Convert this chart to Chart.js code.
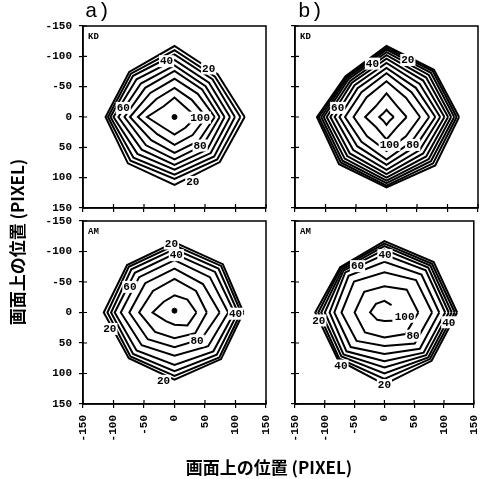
<!DOCTYPE html>
<html><head><meta charset="utf-8">
<script src="https://cdn.jsdelivr.net/npm/chart.js@4/dist/chart.umd.min.js"></script>
<style>
html,body{margin:0;padding:0;background:#fff;}
#wrap{position:relative;width:494px;height:479px;overflow:hidden;background:#fff;}
canvas.p{position:absolute;left:0;top:0;}
.t{position:absolute;color:#000;white-space:nowrap;}
.pl{font-family:"Liberation Mono",monospace;font-size:21px;line-height:24px;top:0px;}
.xt{font-family:"Noto Sans CJK JP",sans-serif;font-weight:bold;font-size:17px;line-height:20px;left:0;width:538px;text-align:center;top:457px;}
.yt{font-family:"Noto Sans CJK JP",sans-serif;font-weight:bold;font-size:17px;line-height:20px;width:200px;text-align:center;left:-83px;top:232px;transform:rotate(-90deg);transform-origin:100px 10px;}
</style></head><body>
<div id="wrap">
<canvas id="cA1" class="p" width="494" height="479"></canvas>
<canvas id="cB1" class="p" width="494" height="479"></canvas>
<canvas id="cA2" class="p" width="494" height="479"></canvas>
<canvas id="cB2" class="p" width="494" height="479"></canvas>
<div class="t pl" style="left:85px;">a)</div>
<div class="t pl" style="left:298px;">b)</div>
<div class="t xt">画面上の位置 (PIXEL)</div>
<div class="t yt">画面上の位置 (PIXEL)</div>
</div>
<script>
// Directions of the radii (degrees, y axis pointing down): E, SE, S, SW, W, NW, N, NE
const DIR_ANGLES = [0, 45, 90, 135, 180, 225, 270, 315];
const AXIS_MIN = -150, AXIS_MAX = 150, AXIS_STEP = 50;

// Contour radii (PIXEL), innermost first
const kdA_rings = [
  [36, 25, 29, 25, 45, 25, 32, 24],
  [52, 42, 46, 40, 60, 42, 48, 40],
  [66, 56, 59, 54, 73, 56, 63, 54],
  [74, 66, 70, 66, 82, 68, 76, 64],
  [82, 76, 79, 76, 92, 78, 85, 72],
  [91, 84, 87, 86, 100, 88, 94, 80],
  [99, 92, 95, 95, 105, 96, 103, 88],
  [108, 99, 102, 102, 109, 101, 110, 94],
  [115, 105, 112, 108, 113, 105, 117, 100]
];
const kdB_rings = [
  [12, 8, 13, 8, 12, 8, 12, 8],
  [33, 24, 37, 24, 35, 25, 39, 25],
  [55, 45, 56, 45, 54, 46, 59, 45],
  [70, 58, 70, 58, 68, 58, 72, 58],
  [80, 68, 79, 68, 77, 67, 81, 68],
  [88, 77, 87, 77, 85, 74, 89, 77],
  [95, 85, 94, 85, 92, 80, 96, 85],
  [101, 92, 100, 91, 98, 84, 102, 92],
  [106, 98, 105, 97, 103, 88, 107, 98],
  [111, 103, 109, 102, 107, 91, 111, 103],
  [115, 108, 113, 106, 111, 93, 114, 107],
  [119, 113, 116, 110, 114, 95, 117, 110]
];
const amA_rings = [
  [36, 30, 20, 20, 36, 25, 28, 30],
  [53, 48, 42, 45, 58, 50, 55, 50],
  [74, 62, 57, 62, 74, 68, 72, 66],
  [88, 78, 71, 76, 88, 82, 86, 82],
  [98, 90, 86, 88, 98, 92, 96, 94],
  [104, 98, 96, 96, 104, 100, 104, 102],
  [109, 104, 104, 102, 110, 106, 110, 108],
  [113, 108, 110, 106, 116, 110, 115, 112]
];
const amB_rings = [
  [null, 19, 14, 17, 24, 20, 19, 17],
  [57, 50, 41, 46, 50, 48, 43, 53],
  [80, 72, 55, 66, 72, 72, 66, 75],
  [92, 84, 68, 80, 84, 85, 83, 88],
  [102, 93, 80, 90, 92, 93, 95, 98],
  [108, 99, 90, 97, 100, 97, 103, 104],
  [113, 104, 100, 102, 106, 100, 109, 109],
  [118, 108, 109, 107, 111, 103, 113, 113],
  [122, 112, 118, 110, 116, 105, 117, 117]
];

// Contour labels: [x, y, text]
const kdA_labels = [[42, 1, '100'], [42, 47, '80'], [-84, -15, '60'], [-13, -92, '40'], [56, -80, '20'], [30, 107, '20']];
const kdB_labels = [[5, 46, '100'], [43, 46, '80'], [-80, -15, '60'], [-23, -88, '40'], [35, -94, '20']];
const amA_labels = [[37, 46, '80'], [-73, -42, '60'], [100, 2, '40'], [3, -94, '40'], [-5, -113, '20'], [-106, 27, '20'], [-18, 112, '20']];
const amB_labels = [[34, 7, '100'], [48, 38, '80'], [-45, -76, '60'], [1, -94, '40'], [108, 16, '40'], [-73, 87, '40'], [-110, 13, '20'], [0, 119, '20']];

// Peak dots
const kdA_dots = [[0, 0]];
const amA_dots = [[0, -3]];

const panelNames = ['KD', 'KD', 'AM', 'AM'];

function ring(r) {
  const pts = r.map((v, i) => v == null ? {x: null, y: null} :
    {x: v * Math.cos(DIR_ANGLES[i] * Math.PI / 180), y: v * Math.sin(DIR_ANGLES[i] * Math.PI / 180)});
  pts.push(pts[0]);
  return pts;
}

const framePlugin = {
  id: 'frame',
  afterDraw(chart) {
    const {ctx, chartArea: a, scales} = chart;
    ctx.save();
    ctx.strokeStyle = '#000';
    ctx.lineWidth = 1.5;
    ctx.strokeRect(a.left, a.top, a.right - a.left, a.bottom - a.top);
    ctx.lineWidth = 1.2;
    ctx.beginPath();
    scales.x.ticks.forEach(t => {
      const px = scales.x.getPixelForValue(t.value);
      ctx.moveTo(px, a.bottom); ctx.lineTo(px, a.bottom - 4);
    });
    scales.y.ticks.forEach(t => {
      const py = scales.y.getPixelForValue(t.value);
      ctx.moveTo(a.left, py); ctx.lineTo(a.left + 4, py);
    });
    ctx.stroke();
    ctx.restore();
  }
};

function labelPlugin(labels, name) {
  return {
    id: 'clabels',
    afterDatasetsDraw(chart) {
      const {ctx, chartArea: a, scales} = chart;
      ctx.save();
      ctx.font = 'bold 11px "Liberation Mono", monospace';
      ctx.textAlign = 'center';
      ctx.textBaseline = 'middle';
      labels.forEach(([x, y, s]) => {
        const px = scales.x.getPixelForValue(x), py = scales.y.getPixelForValue(y);
        const w = ctx.measureText(s).width;
        ctx.fillStyle = '#fff';
        ctx.fillRect(px - w / 2 - 1, py - 6, w + 2, 12);
        ctx.fillStyle = '#000';
        ctx.fillText(s, px, py + 0.5);
      });
      ctx.font = 'bold 9px "Liberation Mono", monospace';
      ctx.textAlign = 'left';
      ctx.fillText(name, a.left + 5, a.top + 11);
      ctx.restore();
    }
  };
}

function makePanel(id, area, rings, labels, dots, name, yLabels, xLabels) {
  const yW = 40, xH = xLabels ? 44 : 6;
  const datasets = rings.map(r => ({
    data: ring(r), showLine: true, borderColor: '#000', borderWidth: 2,
    pointRadius: 0, fill: false, tension: 0, spanGaps: false
  }));
  if (dots) datasets.push({
    data: dots.map(d => ({x: d[0], y: d[1]})), showLine: false,
    pointRadius: 2.5, backgroundColor: '#000', borderColor: '#000'
  });
  const tickFont = {family: 'Liberation Mono', size: 11, weight: 'bold'};
  const grid = {display: true, drawOnChartArea: false, drawTicks: true, tickLength: 4, color: '#000', lineWidth: 1.2};
  new Chart(document.getElementById(id), {
    type: 'scatter',
    data: {datasets},
    options: {
      responsive: false, animation: false, devicePixelRatio: 1,
      layout: {padding: {left: area[0] - yW, top: area[1], right: 494 - area[2], bottom: 479 - area[3] - xH}},
      plugins: {legend: {display: false}, tooltip: {enabled: false}},
      scales: {
        x: {
          type: 'linear', min: AXIS_MIN, max: AXIS_MAX,
          afterFit: s => { s.height = xH; },
          ticks: {display: xLabels, stepSize: AXIS_STEP, minRotation: 90, maxRotation: 90, autoSkip: false,
                  padding: 7, font: tickFont, color: '#000'},
          grid: grid, border: {display: true, color: '#000', width: 1.5}
        },
        y: {
          type: 'linear', min: AXIS_MIN, max: AXIS_MAX, reverse: true,
          afterFit: s => { s.width = yW; },
          ticks: {display: yLabels, stepSize: AXIS_STEP, autoSkip: false, padding: 7, font: tickFont, color: '#000'},
          grid: grid, border: {display: true, color: '#000', width: 1.5}
        }
      }
    },
    plugins: [framePlugin, labelPlugin(labels, name)]
  });
}

makePanel('cA1', [83, 26, 266, 208], kdA_rings, kdA_labels, kdA_dots, panelNames[0], true, false);
makePanel('cB1', [295, 26, 478, 208], kdB_rings, kdB_labels, null, panelNames[1], false, false);
makePanel('cA2', [83, 221, 266, 404], amA_rings, amA_labels, amA_dots, panelNames[2], true, true);
makePanel('cB2', [295, 221, 478, 404], amB_rings, amB_labels, null, panelNames[3], false, true);
</script>
</body></html>
